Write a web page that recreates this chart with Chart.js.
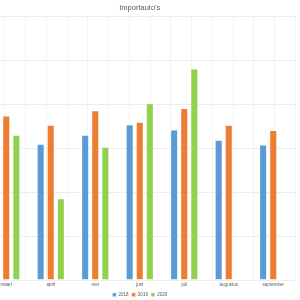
<!DOCTYPE html>
<html><head><meta charset="utf-8">
<script src="https://cdn.jsdelivr.net/npm/chart.js@4/dist/chart.umd.min.js"></script>
<style>
html,body{margin:0;padding:0;background:#fff;overflow:hidden;width:300px;height:300px;}
#wrap{position:absolute;left:-30px;top:0;width:360px;height:307px;}
</style></head>
<body>
<div id="wrap"><canvas id="c"></canvas></div>
<script>
const categories = ['maart','april','mei','juni','juli','augustus','september'];
const series2018 = [35.0, 31.0, 33.0, 35.4, 34.2, 31.9, 30.8];
const series2019 = [37.4, 35.3, 38.6, 36.0, 39.1, 35.3, 34.1];
const series2020 = [33.0, 18.6, 30.3, 40.2, 48.1, null, null];
const seriesNames = ['2018','2019','2020'];
const colors = ['#5B9BD5','#ED7D31','#92D050'];

const ds = [series2018, series2019, series2020].map((d,i)=>({
  label: seriesNames[i], data: d, backgroundColor: colors[i],
  borderColor: 'rgba(255,255,255,0.55)', borderWidth: 1,
  categoryPercentage: 0.68, barPercentage: 0.8
}));

new Chart(document.getElementById('c'), {
  type: 'bar',
  data: { labels: categories, datasets: ds },
  options: {
    responsive: true, maintainAspectRatio: false, animation: false,
    layout: { padding: { left: 14, right: 34.5, top: 0, bottom: 0 } },
    plugins: {
      title: { display: true, text: "Importauto's", color: '#595959',
        font: { family: 'Liberation Sans', size: 7.5, weight: 'normal' }, padding: { top: 3, bottom: 4 } },
      legend: { position: 'bottom', labels: { color: '#595959', boxWidth: 4, boxHeight: 4,
        font: { family: 'Liberation Sans', size: 4.5 }, padding: 3 } },
      tooltip: { enabled: false }
    },
    scales: {
      x: { grid: { display: false, drawTicks: false }, border: { display: false },
        ticks: { color: '#595959', font: { family: 'Liberation Sans', size: 4.5 }, padding: 2, maxRotation: 0, autoSkip: false } },
      x2: { type: 'linear', position: 'bottom', min: -0.5, max: 6.5,
        ticks: { display: false, stepSize: 0.5 }, border: { display: false },
        grid: { color: '#f4f4f4', drawTicks: false }, afterFit: a => { a.height = 0; } },
      y: { min: 0, max: 60, ticks: { display: false, stepSize: 10 }, border: { display: false },
        grid: { color: '#ececec', drawTicks: false }, afterFit: a => { a.width = 0; } }
    }
  }
});
</script>
</body></html>
